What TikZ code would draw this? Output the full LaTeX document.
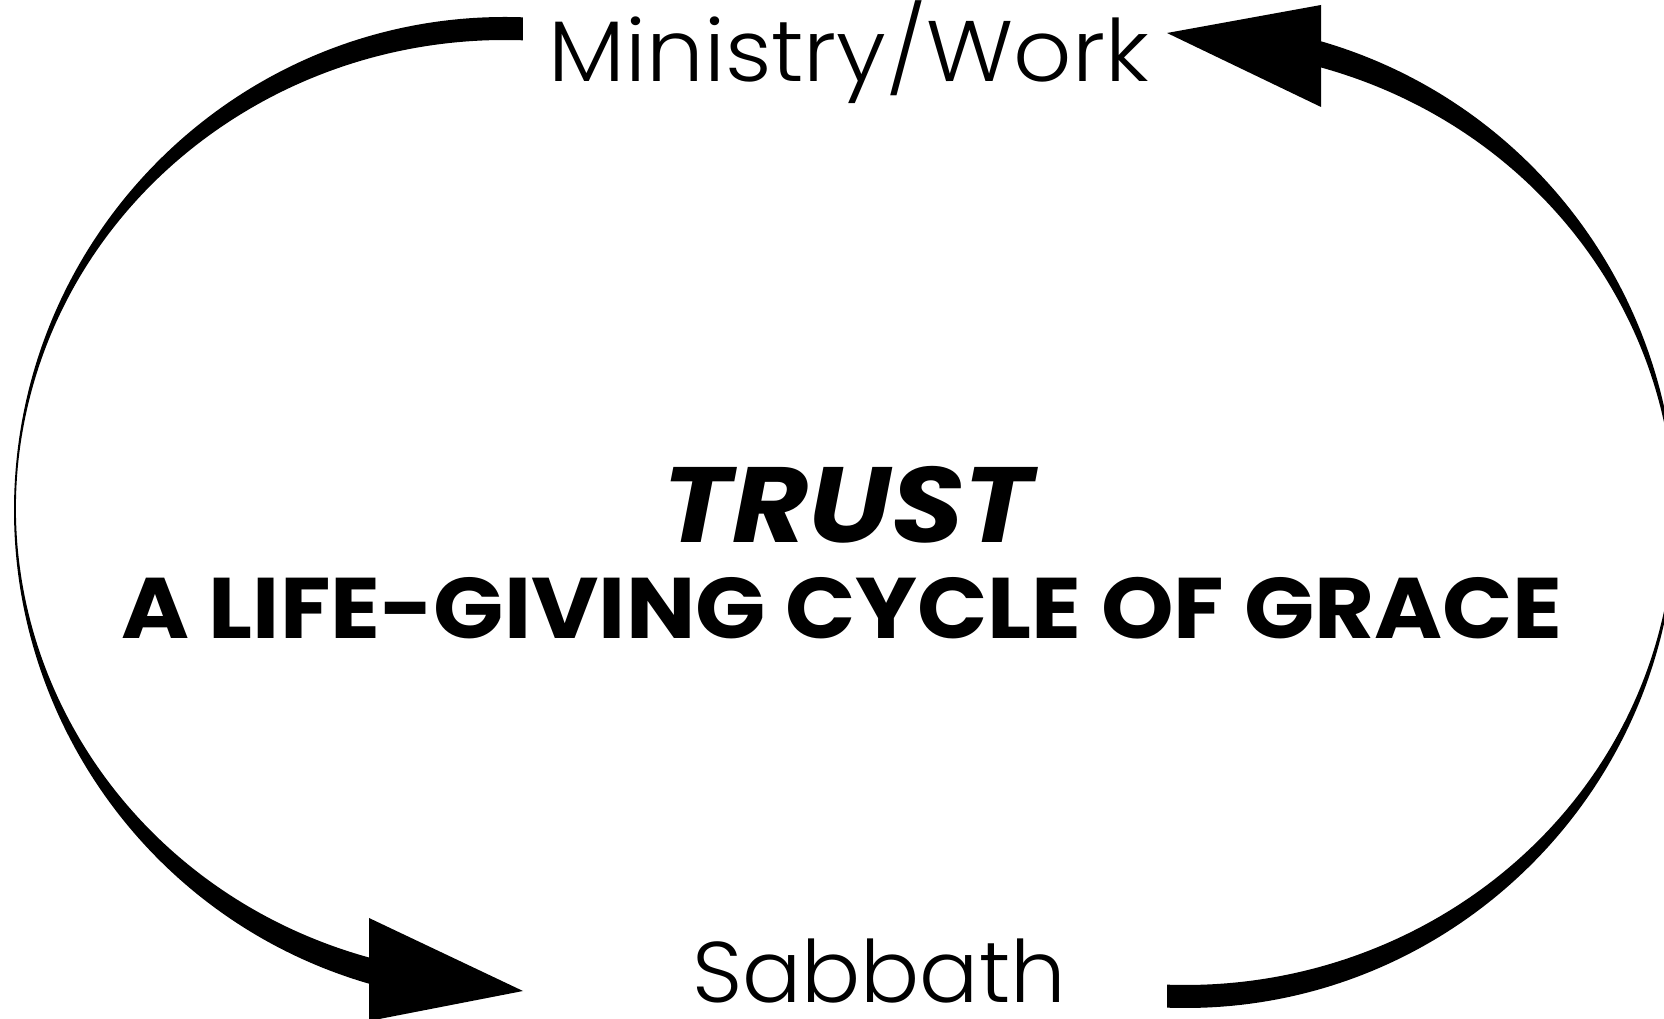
\documentclass[tikz,border=0pt]{standalone}
\usepackage{fontspec}
\setmainfont{Poppins}
\newfontfamily\lightfont{Poppins Light}
\begin{document}
\begin{tikzpicture}[x=1pt,y=1pt,
  lbl/.style={inner sep=0pt, anchor=base, font=\lightfont\fontsize{86}{86}\selectfont},
  title/.style={inner sep=0pt, anchor=base, font=\bfseries\itshape\fontsize{107}{107}\selectfont},
  subtitle/.style={inner sep=0pt, anchor=base, font=\bfseries\fontsize{86}{86}\selectfont},
  armfill/.style={fill=black, draw=none}]
\useasboundingbox (0,0) rectangle (1664,1019);
\clip (0,0) rectangle (1664,1019);
\fill[white] (0,0) rectangle (1664,1019);

\node[lbl] (work) at (849,937) {\scalebox{1.06}[1]{Ministry/Work}};
\node[lbl, text depth=0pt] (sabbath) at (879,16) {\scalebox{1.02}[1]{Sabbath}};
\node[title] (trust) at (848,476) {\scalebox{1.095}[1]{TRUST}};
\node[subtitle] (cycle) at (842,380) {\scalebox{1.073}[1]{A LIFE-GIVING CYCLE OF GRACE}};

% left arm: Ministry/Work -> Sabbath
\fill[armfill] ([shift={(505,509)}]87.9:491pt and 493pt)
  arc[start angle=87.9, end angle=253.9, x radius=491pt, y radius=493pt]
  -- ([shift={(505,511)}]253.85:489pt and 468pt)
  arc[start angle=253.85, end angle=87.9, x radius=489pt, y radius=468pt]
  -- cycle;
\coordinate (lb1) at (369,101);
\coordinate (ltip) at (523,28);
\coordinate (lb2) at (369,-2);
\fill[armfill] (lb1) -- (ltip) -- (lb2) -- cycle;

% right arm: Sabbath -> Ministry/Work
\fill[armfill] ([shift={(1185,504)}]267.9:491pt and 493pt)
  arc[start angle=267.9, end angle=433.9, x radius=491pt, y radius=493pt]
  -- ([shift={(1185,502)}]433.85:489pt and 468pt)
  arc[start angle=433.85, end angle=267.9, x radius=489pt, y radius=468pt]
  -- cycle;
\coordinate (rb1) at (1321,912);
\coordinate (rtip) at (1167,986);
\coordinate (rb2) at (1321,1014);
\fill[armfill] (rb1) -- (rtip) -- (rb2) -- cycle;
\end{tikzpicture}
\end{document}
